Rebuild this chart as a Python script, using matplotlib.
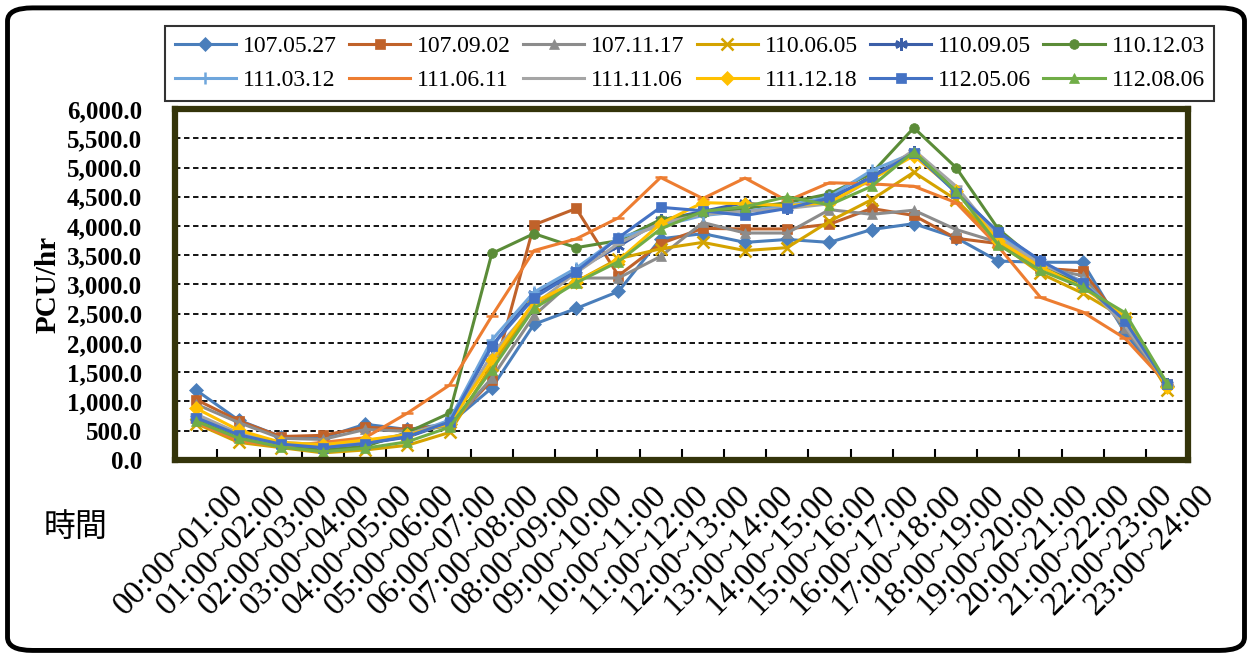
import numpy as np
import matplotlib
matplotlib.use("Agg")
import matplotlib.pyplot as plt
import matplotlib.transforms as mtransforms
from matplotlib.patches import FancyBboxPatch
from matplotlib.ticker import FuncFormatter

# --- data ---
hours = [f"{h:02d}:00~{h+1:02d}:00" for h in range(24)]

s_1070527 = [1190, 680, 400, 380, 610, 520, 620, 1230, 2320, 2590, 2880, 3780, 3870, 3720, 3770, 3720, 3940, 4040, 3800, 3400, 3380, 3380, 2180, 1270]
s_1070902 = [1030, 670, 400, 420, 560, 520, 600, 1360, 4020, 4300, 3150, 3700, 3960, 3950, 3950, 4030, 4300, 4180, 3790, 3700, 3280, 3230, 2300, 1300]
s_1071117 = [950, 640, 370, 350, 520, 490, 580, 1400, 2470, 3110, 3110, 3480, 4060, 3880, 3880, 4280, 4200, 4270, 3940, 3720, 3300, 3150, 2250, 1300]
s_1100605 = [620, 300, 210, 120, 170, 250, 470, 1620, 2650, 3050, 3440, 3610, 3720, 3580, 3630, 4080, 4450, 4920, 4450, 3720, 3190, 2850, 2420, 1200]
s_1100905 = [720, 420, 270, 220, 280, 390, 640, 1950, 2830, 3250, 3650, 4100, 4250, 4400, 4300, 4450, 4850, 5270, 4600, 3880, 3400, 3000, 2380, 1300]
s_1101203 = [680, 380, 240, 170, 230, 470, 800, 3530, 3870, 3630, 3750, 4110, 4220, 4300, 4400, 4550, 4900, 5680, 5000, 3950, 3350, 3000, 2450, 1300]
s_1110312 = [730, 430, 270, 220, 290, 420, 680, 2050, 2870, 3280, 3800, 4000, 4180, 4250, 4350, 4500, 4950, 5250, 4580, 3850, 3380, 3050, 2400, 1280]
s_1110611 = [640, 330, 230, 300, 380, 800, 1280, 2460, 3580, 3780, 4140, 4830, 4470, 4820, 4430, 4740, 4720, 4680, 4400, 3650, 2780, 2530, 2080, 1300]
s_1111106 = [780, 460, 300, 260, 320, 440, 640, 1800, 2650, 3200, 3700, 4050, 4200, 4250, 4300, 4380, 4800, 5300, 4680, 3800, 3350, 3050, 2300, 1300]
s_1111218 = [880, 510, 300, 260, 340, 430, 620, 1700, 2700, 3050, 3410, 4040, 4400, 4380, 4350, 4400, 4800, 5200, 4600, 3750, 3300, 2950, 2450, 1250]
s_1120506 = [720, 430, 270, 210, 280, 400, 650, 1950, 2770, 3220, 3800, 4320, 4260, 4180, 4300, 4480, 4830, 5250, 4570, 3900, 3410, 3020, 2380, 1290]
s_1120806 = [660, 370, 220, 140, 200, 310, 560, 1540, 2590, 3030, 3390, 3950, 4250, 4330, 4500, 4360, 4680, 5270, 4600, 3680, 3240, 2950, 2520, 1310]

series = [
    ("107.05.27", s_1070527, "#4a7ebb", "D"),
    ("107.09.02", s_1070902, "#c0622a", "s"),
    ("107.11.17", s_1071117, "#8c8c8c", "^"),
    ("110.06.05", s_1100605, "#d4a300", "x"),
    ("110.09.05", s_1100905, "#3c5fa8", (6, 2, 0)),
    ("110.12.03", s_1101203, "#5b8c38", "o"),
    ("111.03.12", s_1110312, "#6fa6dc", "+"),
    ("111.06.11", s_1110611, "#ed7d31", "_"),
    ("111.11.06", s_1111106, "#a5a5a5", "_"),
    ("111.12.18", s_1111218, "#ffc000", "D"),
    ("112.05.06", s_1120506, "#4472c4", "s"),
    ("112.08.06", s_1120806, "#70ad47", "^"),
]

plt.rcParams['font.family'] = ['Liberation Serif', 'DejaVu Serif']

fig = plt.figure(figsize=(12.52, 6.57), dpi=100)
ax = fig.add_axes([0.140, 0.300, 0.809, 0.534])

x = np.arange(len(hours))
handles = []
for name, vals, col, mk in series:
    thin = mk in ("x", "+", "_", (6, 2, 0))
    h, = ax.plot(x, vals, color=col, lw=2.2, marker=mk, markersize=9 if thin else 7,
                 markeredgewidth=1.8 if thin else 0.5, markeredgecolor=col, label=name)
    handles.append(h)

ax.set_xlim(-0.5, 23.5)
ax.set_ylim(0, 6000)
ax.set_yticks(np.arange(0, 6001, 500))
ax.yaxis.set_major_formatter(FuncFormatter(lambda v, p: f"{v:,.1f}"))
ax.tick_params(axis='y', length=0, pad=24, labelsize=18)
for t in ax.get_yticklabels():
    t.set_fontweight('bold')
ax.yaxis.grid(True, color='black', linestyle=(0, (3, 2)), lw=1.3)
ax.set_axisbelow(True)

ax.set_xticks(x)
ax.set_xticklabels(hours, rotation=45, ha='right', rotation_mode='anchor', fontsize=24)
ax.tick_params(axis='x', length=0, pad=14)
shift = mtransforms.ScaledTranslation(32 / 100, 0, fig.dpi_scale_trans)
for t in ax.get_xticklabels():
    t.set_transform(t.get_transform() + shift)
ax.set_xticks(np.arange(-0.5, 24, 1), minor=True)
ax.tick_params(axis='x', which='minor', direction='in', length=8, width=1.5, color='black')

for sp in ax.spines.values():
    sp.set_color('#34340a')
    sp.set_linewidth(4.5)

fig.text(0.038, 0.567, "PCU/hr", rotation=90, ha='center', va='center', fontsize=21, fontweight='bold')
fig.text(0.060, 0.198, "時間", ha='center', va='center', fontsize=23,
         family=['Noto Sans CJK TC', 'DejaVu Sans'])

# row-wise order in a 2 x 6 legend
order = [0, 6, 1, 7, 2, 8, 3, 9, 4, 10, 5, 11]
leg = ax.legend([handles[i] for i in order], [series[i][0] for i in order],
                loc='center', ncol=6, mode='expand', bbox_to_anchor=(0.132, 0.845, 0.838, 0.117),
                bbox_transform=fig.transFigure, fontsize=17, frameon=True, fancybox=False,
                handlelength=2.6, borderaxespad=0, columnspacing=1.0, handletextpad=0.3,
                labelspacing=0.55)
leg.get_frame().set_edgecolor('black')
leg.get_frame().set_linewidth(1.5)

border = FancyBboxPatch((0.006, 0.01), 0.988, 0.978, boxstyle="round,pad=0,rounding_size=0.02",
                        transform=fig.transFigure, fill=False, edgecolor='black', lw=3.5)
fig.patches.append(border)

fig.savefig("out.png", dpi=100)
